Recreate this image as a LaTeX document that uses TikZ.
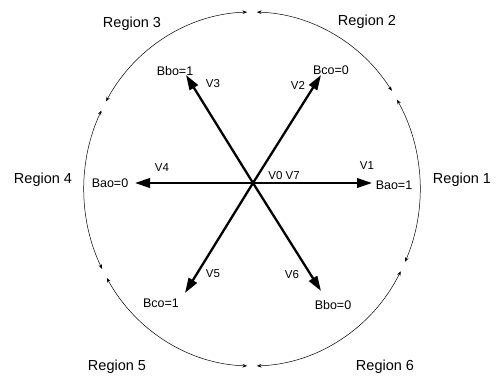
\documentclass[tikz,border=0pt]{standalone}
\usepackage{fontspec}
\setmainfont{Liberation Sans}
\usetikzlibrary{arrows.meta}
\tikzset{
  vec/.style={line width=2.3pt,-{Triangle[length=15pt,width=9.5pt]}},
  regarc/.style={line width=0.5pt,{Stealth[length=4.5pt,width=3.5pt]}-{Stealth[length=4.5pt,width=3.5pt]}},
  reglab/.style={font=\fontsize{14.5}{17}\selectfont,inner sep=0pt},
  blab/.style={font=\fontsize{12.5}{15}\selectfont,inner sep=0pt},
  vlab/.style={font=\fontsize{11.5}{14}\selectfont,inner sep=0pt}
}
\begin{document}
\begin{tikzpicture}[x=1pt,y=1pt]
\useasboundingbox[fill=white] (0,0) rectangle (499,376);
\coordinate (O) at (252,187);
\coordinate (C) at (253,193);
% vector tips
\coordinate (t1) at (372,193);
\coordinate (t4) at (135,193);
\coordinate (t2) at (321,301);
\coordinate (t3) at (186,301);
\coordinate (t5) at (185,83);
\coordinate (t6) at (321,85);
\draw[vec] (C) -- (t1);
\draw[vec] (C) -- (t2);
\draw[vec] (C) -- (t3);
\draw[vec] (C) -- (t4);
\draw[vec] (C) -- (t5);
\draw[vec] (C) -- (t6);
% arcs
\foreach \n/\a/\b in {1/-24.3/30.3, 2/33.7/88.3, 3/91.7/150.3, 4/153.7/206.8, 5/210.2/268.3, 6/271.7/332.3}{
  \path (O) ++(\a:168pt and 177pt) coordinate (s\n);
  \draw[regarc] (s\n) arc[start angle=\a, end angle=\b, x radius=168pt, y radius=177pt];
}
% labels
\node[blab] (lb1) at (394,191) {Bao=1};
\node[blab] (lb4) at (110,193) {Bao=0};
\node[blab] (lb2) at (331,306) {Bco=0};
\node[blab] (lb3) at (175,305) {Bbo=1};
\node[blab] (lb5) at (161,73) {Bco=1};
\node[blab] (lb6) at (333,71) {Bbo=0};
\node[vlab] (v1) at (367,210) {V1};
\node[vlab] (v2) at (298,291) {V2};
\node[vlab] (v3) at (213,292) {V3};
\node[vlab] (v4) at (162,208) {V4};
\node[vlab] (v5) at (213,102) {V5};
\node[vlab] (v6) at (292,101) {V6};
\node[vlab] (v07) at (284,200) {V0 V7};
\node[reglab] (r1) at (462,196) {Region 1};
\node[reglab] (r2) at (367,354) {Region 2};
\node[reglab] (r3) at (132,352) {Region 3};
\node[reglab] (r4) at (43,196) {Region 4};
\node[reglab] (r5) at (117,9) {Region 5};
\node[reglab] (r6) at (385,9) {Region 6};
\end{tikzpicture}
\end{document}
